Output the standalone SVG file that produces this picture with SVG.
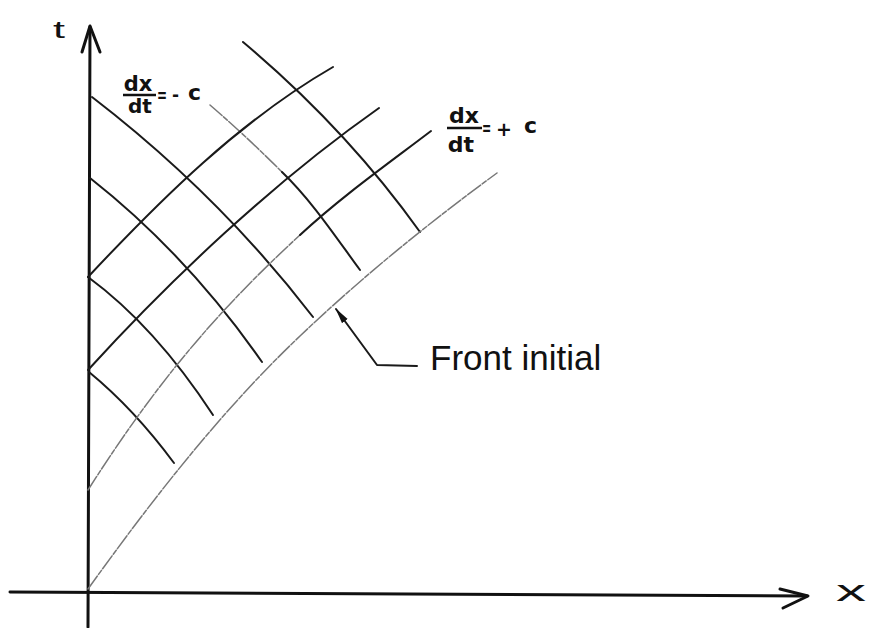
<svg xmlns="http://www.w3.org/2000/svg" width="871" height="628" viewBox="0 0 871 628">
<style>
.ink{fill:none;stroke:#1a1a1a;stroke-width:2;stroke-linecap:round;stroke-linejoin:round}
.axis{fill:none;stroke:#111;stroke-width:3;stroke-linecap:round;stroke-linejoin:round}
.faint{fill:none;stroke:#777;stroke-width:1.5;stroke-dasharray:16 2 5 2;stroke-linecap:round;stroke-linejoin:round}
.lbl{font-family:"DejaVu Sans",sans-serif;font-weight:bold;fill:#111}
.hand{font-family:"Liberation Sans",Arial,sans-serif;fill:#111}
</style>
<defs>
<marker id="ah" viewBox="0 0 16 8" refX="15" refY="4" markerWidth="16" markerHeight="8" markerUnits="userSpaceOnUse" orient="auto-start-reverse">
<path d="M16,4 L0,0.5 L0,7.5 Z" fill="#111"/>
</marker>
</defs>
<rect width="871" height="628" fill="#ffffff"/>
<g id="axes">
<line class="axis" x1="88" y1="627" x2="90" y2="27"/>
<polyline class="axis" points="82,52 90,26 100,52"/>
<line class="axis" x1="10" y1="592" x2="807" y2="596"/>
<polyline class="axis" points="780,589 808,596 783,608"/>
<text class="hand" transform="translate(53,38) scale(1.8,1)" font-size="24">t</text>
<text class="hand" transform="translate(836,601) scale(2,1)" font-size="30">x</text>
</g>
<g id="minus-c-characteristics">
<path class="ink" d="M92,97 C174,160 250,235 313,317"/>
<path class="ink" d="M90,178 C156,230 214,293 262,362"/>
<path class="ink" d="M88,277 C137,313 179,363 213,415"/>
<path class="ink" d="M89,372 C120.6,398 149.6,430 174,463"/>
<path class="faint" d="M210,105 Q247,137 282,172"/>
<path class="ink" d="M282,172 C312,201 335,236 360,270"/>
<path class="ink" d="M243,42 C309.6,98 369.5,161.3 420,232"/>
</g>
<g id="plus-c-characteristics">
<path class="ink" d="M88,277 C161.8,198.1 239.6,121 333,67"/>
<path class="ink" d="M88,370 C170,280 272.6,182.8 379,108"/>
<path class="faint" d="M88,490 C157.8,380.3 219,309.5 300,235"/>
<path class="ink" d="M300,235 C341,197 386.4,164.9 431,131"/>
</g>
<g id="front-initial">
<path class="faint" d="M88,589 C152.2,499.7 220.2,411.8 300,336 C361.6,277.4 428.4,223.2 497,173"/>
</g>
<g id="label-minus">
<text class="lbl" x="138" y="91" font-size="21" text-anchor="middle">dx</text>
<line x1="123" y1="95" x2="156" y2="95" stroke="#111" stroke-width="2.5"/>
<text class="lbl" x="140" y="113" font-size="20" text-anchor="middle">dt</text>
<text class="lbl" transform="translate(157,102) scale(0.6,1)" font-size="20">=</text>
<text class="lbl" x="172" y="101" font-size="17">-</text>
<text class="lbl" x="188" y="100" font-size="22">c</text>
</g>
<g id="label-plus">
<text class="lbl" x="464" y="123" font-size="22" text-anchor="middle">dx</text>
<line x1="447" y1="128" x2="482" y2="128" stroke="#111" stroke-width="2.5"/>
<text class="lbl" x="461" y="152" font-size="22" text-anchor="middle">dt</text>
<text class="lbl" transform="translate(482,135) scale(0.55,1)" font-size="20">=</text>
<text class="lbl" x="496" y="136" font-size="19">+</text>
<text class="lbl" x="524" y="133" font-size="22">c</text>
</g>
<g id="leader">
<polyline class="ink" points="336,309 377,365 417,366" marker-start="url(#ah)"/>
<text class="hand" x="430" y="370" font-size="35">Front initial</text>
</g>
</svg>
